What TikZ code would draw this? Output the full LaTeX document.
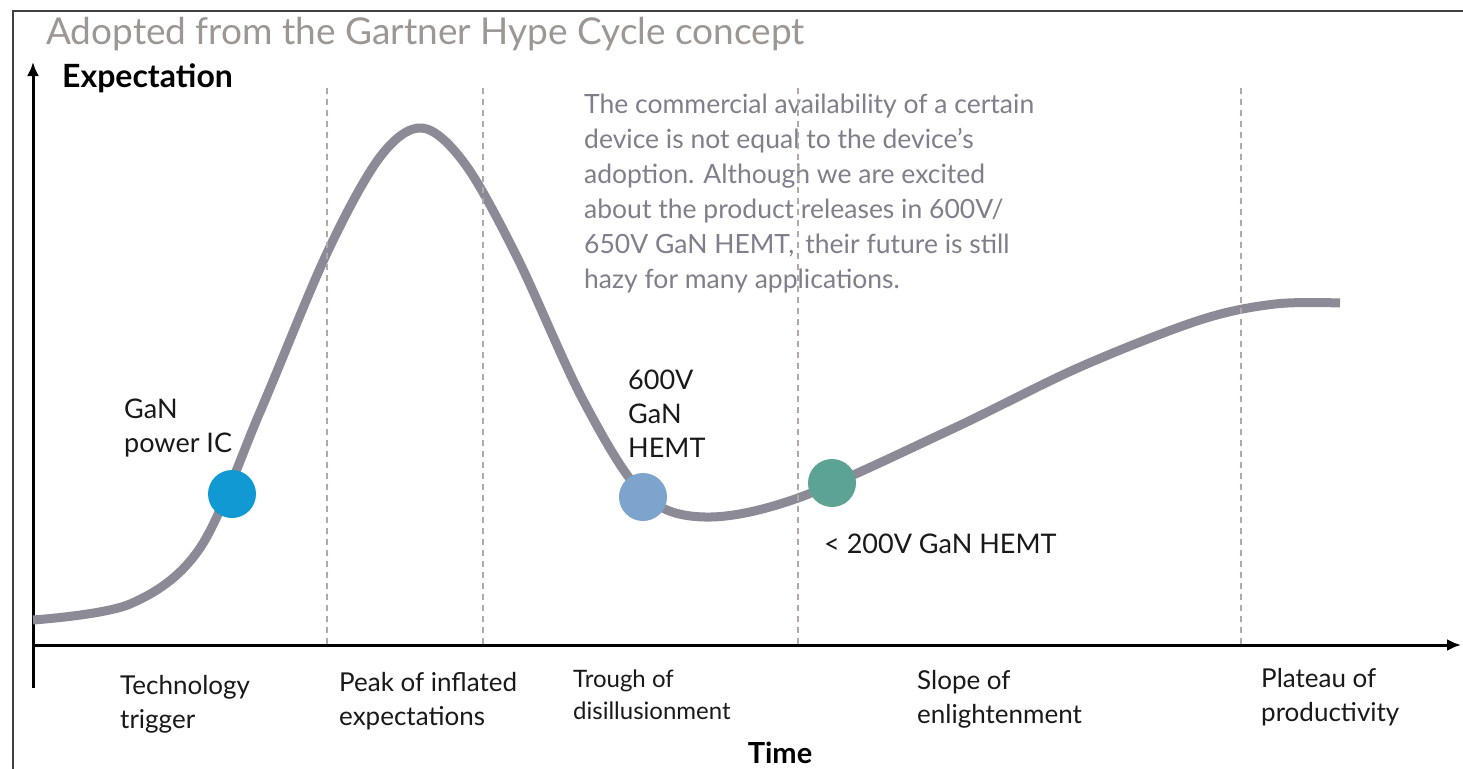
\documentclass[tikz,border=0pt]{standalone}
\usepackage{fontspec}
\setmainfont{Lato}
\usepackage{tikz}
\usetikzlibrary{arrows.meta}
\definecolor{curvegrey}{HTML}{8B8A96}
\definecolor{titlegrey}{HTML}{9D9793}
\definecolor{notegrey}{HTML}{7F7E8B}
\definecolor{guidegrey}{HTML}{B0A9A5}
\definecolor{icblue}{HTML}{1199D3}
\definecolor{hvblue}{HTML}{7CA4CC}
\definecolor{lvgreen}{HTML}{5CA394}
\tikzset{stage/.style={anchor=west, align=left, inner sep=0pt, text=black!90, font=\fontsize{26}{34}\selectfont}}
\tikzset{small/.style={font=\fontsize{24}{32}\selectfont}}
\tikzset{device/.style={stage, font=\fontsize{27}{34}\selectfont}}
\tikzset{dot/.style={circle, minimum size=48pt, inner sep=0pt}}
\tikzset{guide/.style={draw=guidegrey, line width=1.2pt, dash pattern=on 6pt off 5pt}}
\tikzset{axis/.style={line width=3pt, -{Latex[length=14pt,width=12pt]}}}
\tikzset{%
  apply style/.code={%
    \tikzset{#1}%
  }
}

\begin{document}
\begin{tikzpicture}[x=1pt,y=-1pt]
  \useasboundingbox[fill=white] (0,0) rectangle (1463,768);
  \draw[line width=1.5pt, black!75] (13,11) rectangle (1490,800);

  \node[anchor=west, inner sep=0pt, text=titlegrey, font=\fontsize{37}{44}\selectfont] (title) at (46,34) {Adopted from the Gartner Hype Cycle concept};

  % axes
  \coordinate (ybottom) at (33,688);
  \coordinate (ytop) at (33,62);
  \coordinate (xleft) at (31.5,645);
  \coordinate (xright) at (1461,645);
  \draw[axis] (ybottom) -- (ytop);
  \draw[axis] (xleft) -- (xright);
  \node[anchor=west, inner sep=0pt, font=\fontsize{32}{34}\bfseries\selectfont] (ylab) at (62,78) {Expectation};
  \node[anchor=base, inner sep=0pt, font=\fontsize{29}{34}\bfseries\selectfont] (xlab) at (780,763) {Time};

  % hype curve
  \draw[curvegrey, line width=9pt, line cap=butt] plot[smooth, tension=0.55] coordinates {
    (33,620) (130,604) (200,548) (260,412) (327,253) (380,157) (422,128)
    (465,164) (517,257) (583,400) (643,494) (705,517) (798,498) (950,430)
    (1080,367) (1200,320) (1275,304) (1340,303)};

  % note
  \node[anchor=west, align=left, inner sep=0pt, text=notegrey, font=\fontsize{26.5}{35}\selectfont] (note) at (584,194)
    {The commercial availability of a certain\\device is not equal to the device’s\\adoption. Although we are excited\\about the product releases in 600V/\\650V GaN HEMT,\, their future is still\\hazy for many applications.};

  % devices
  \foreach \x/\y/\col/\lab in {
    232/494/icblue/ic,
    643/497/hvblue/hv,
    832/483/lvgreen/lv%
  } {
    \node[dot, fill=\col] (\lab) at (\x, \y) {};
  }
  \node[device] (iclab) at (124,428) {GaN\\power IC};
  \node[device] (hvlab) at (628,414) {600V\\GaN\\HEMT};
  \node[device] (lvlab) at (824,544) {< 200V GaN HEMT};

  % phases
  \foreach \x/\y/\name/\lab/\style in {
    120/704/{Technology\\trigger}/trig/{},
    339/701/{Peak of inflated\\expectations}/peak/{},
    573/695/{Trough of\\disillusionment}/trough/{small},
    917/699/{Slope of\\enlightenment}/slope/{},
    1261/697/{Plateau of\\productivity}/plat/{}%
  } {
    \node[stage, apply style/.expand once=\style] (\lab) at (\x, \y) {\name};
  }
  \foreach \x in {327,483,798,1241} {
    \draw[guide] (\x,88) -- (\x,645);
  }
\end{tikzpicture}
\end{document}
